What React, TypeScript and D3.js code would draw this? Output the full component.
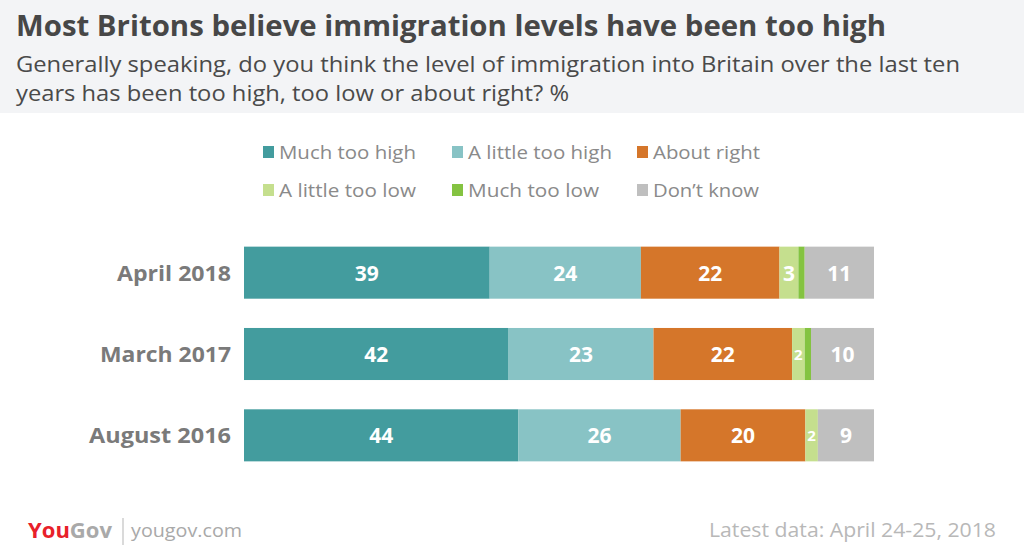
import React from 'react';
import * as d3 from 'd3';

const periods = ['April 2018', 'March 2017', 'August 2016'];
const answers = ['Much too high', 'A little too high', 'About right', 'A little too low', 'Much too low', "Don't know"];
const answerLabels = ['Much too high', 'A little too high', 'About right', 'A little too low', 'Much too low', 'Don\u2019t know'];
const muchTooHigh = [39, 42, 44];
const littleTooHigh = [24, 23, 26];
const aboutRight = [22, 22, 20];
const littleTooLow = [3, 2, 2];
const muchTooLow = [1, 1, 0];
const dontKnow = [11, 10, 9];
const colors = ['#439c9e', '#88c3c5', '#d5762a', '#c5df8e', '#84c341', '#bfbfbf'];

const W = 1024;
const H = 551;
const FONT = '"Open Sans", Lato, sans-serif';

// widths the header/legend texts are laid out to
const legendWidths = [137, 144, 107, 137, 131, 106];
const periodWidths = [114, 131, 142];

export default function App() {
  const series = [muchTooHigh, littleTooHigh, aboutRight, littleTooLow, muchTooLow, dontKnow];

  const y = d3.scaleBand().domain(periods).range([232, 476]).paddingInner(0.36).paddingOuter(0.18);
  const x = d3.scaleLinear().domain([0, 1]).range([244, 874]);

  // stack each row as a share of its own total so every bar spans the full width
  const rows = periods.map((p, i) => {
    const vals = series.map(s => s[i]);
    const total = d3.sum(vals);
    let acc = 0;
    return vals.map((v, k) => {
      const seg = { period: p, key: answers[k], value: v, x0: acc / total, x1: (acc + v) / total, k };
      acc += v;
      return seg;
    });
  });

  const legendX = [263, 452, 637];
  const legendY = [152, 190];

  return (
    <svg width={W} height={H} style={{ position: 'absolute', left: 0, top: 0, fontFamily: FONT }}>
      <rect x={0} y={0} width={W} height={113} fill="#f3f4f6" />
      <text x={16} y={36} fontSize={29} fontWeight={700} fill="#474747" textLength={870} lengthAdjust="spacingAndGlyphs">
        Most Britons believe immigration levels have been too high
      </text>
      <text x={16} y={72} fontSize={22} fill="#4a4a4a" textLength={944} lengthAdjust="spacingAndGlyphs">
        Generally speaking, do you think the level of immigration into Britain over the last ten
      </text>
      <text x={16} y={101} fontSize={22} fill="#4a4a4a" textLength={553} lengthAdjust="spacingAndGlyphs">
        years has been too high, too low or about right? %
      </text>

      {answerLabels.map((a, i) => (
        <g key={a} transform={`translate(${legendX[i % 3]},${legendY[Math.floor(i / 3)]})`}>
          <rect x={0} y={-6} width={11} height={12} fill={colors[i]} />
          <text x={16} y={7} fontSize={19} fill="#8a8a8a" textLength={legendWidths[i]} lengthAdjust="spacingAndGlyphs">{a}</text>
        </g>
      ))}

      {rows.map((segs, i) => (
        <g key={periods[i]}>
          <text x={231} y={(y(periods[i]) as number) + y.bandwidth() / 2 + 8} textAnchor="end"
            fontSize={21} fontWeight={700} fill="#7a7a7a"
            textLength={periodWidths[i]} lengthAdjust="spacingAndGlyphs">{periods[i]}</text>
          {segs.map(s => {
            const x0 = x(s.x0);
            const w = x(s.x1) - x0;
            if (s.value === 0) return null;
            return (
              <g key={s.key}>
                <rect x={x0} y={y(s.period)} width={w} height={y.bandwidth()} fill={colors[s.k]} />
                {s.value > 1 && (
                  <text x={x0 + w / 2} y={(y(s.period) as number) + y.bandwidth() / 2 + (s.value < 3 ? 6 : 8)}
                    textAnchor="middle" fontSize={s.value < 3 ? 15 : 21} fontWeight={700} fill="#ffffff">
                    {s.value}
                  </text>
                )}
              </g>
            );
          })}
        </g>
      ))}

      <text x={28} y={538} fontSize={22} fontWeight={700} textLength={84} lengthAdjust="spacingAndGlyphs">
        <tspan fill="#e8202a">You</tspan><tspan fill="#a9a9a9">Gov</tspan>
      </text>
      <line x1={123} x2={123} y1={518} y2={545} stroke="#b5b5b5" strokeWidth={1} />
      <text x={131} y={537} fontSize={19} fill="#a9a9a9" textLength={111} lengthAdjust="spacingAndGlyphs">yougov.com</text>
      <text x={996} y={537} textAnchor="end" fontSize={20} fill="#b8b8b8" textLength={287} lengthAdjust="spacingAndGlyphs">Latest data: April 24-25, 2018</text>
    </svg>
  );
}
